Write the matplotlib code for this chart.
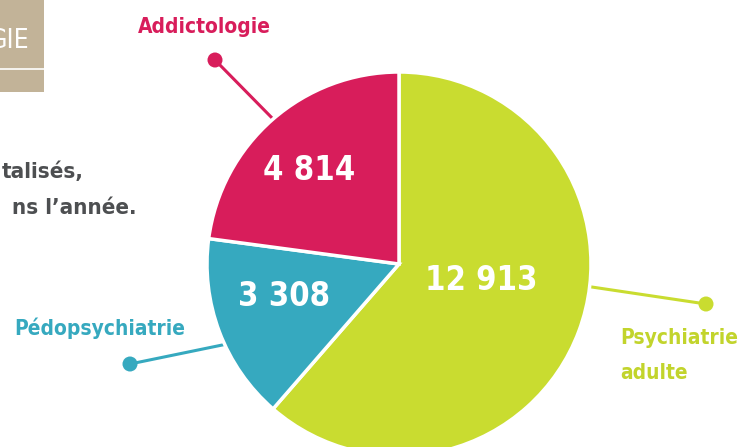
import matplotlib
matplotlib.use("Agg")
import matplotlib.pyplot as plt
from matplotlib import font_manager as fm
from matplotlib.patches import Rectangle, Circle

# data
categories = ["Psychiatrie\nadulte", "Pédopsychiatrie", "Addictologie"]
values = [12913, 3308, 4814]
value_labels = ["12 913", "3 308", "4 814"]
colors = ["#C9DC30", "#36A9BF", "#D81D5B"]


def _num(v, table):
    if isinstance(v, str):
        return table.get(v, 500 if table is fm.stretch_dict else 400)
    return v


def pick_font(bold=True):
    best, best_score = None, None
    for f in fm.fontManager.ttflist:
        st = _num(f.stretch, fm.stretch_dict)
        w = _num(f.weight, fm.weight_dict)
        nm = f.name.lower()
        fn = f.fname.lower()
        narrowish = st < 500 or "condensed" in nm or "narrow" in nm or "condensed" in fn or "narrow" in fn
        if not narrowish or f.style != "normal":
            continue
        if "cjk" in nm or "mono" in nm:
            continue
        wt = 700 if bold else 400
        score = abs(w - wt) + abs(min(st, 500) - 300) * 0.2
        if best_score is None or score < best_score:
            best, best_score = f.fname, score
    return best


BOLD = pick_font(True)
REG = pick_font(False)


def fp(size, bold=True):
    path = BOLD if bold else REG
    if path:
        return fm.FontProperties(fname=path, size=size)
    return fm.FontProperties(family="DejaVu Sans", weight="bold" if bold else "normal",
                             stretch="condensed", size=size * 0.85)


W, H = 749, 447
fig = plt.figure(figsize=(W / 100, H / 100), dpi=100)
ax = fig.add_axes([0, 0, 1, 1])


def Y(y):
    return H - y


cx, cy, r = 399, Y(264), 192

# leader lines (drawn beneath pie)
leaders = [
    ((706, 304), (585, 286)),
    ((130, 364), (232, 343)),
    ((215, 60), (276, 122)),
]
for (d, e), c in zip(leaders, colors):
    ax.plot([d[0], e[0]], [Y(d[1]), Y(e[1])], color=c, lw=2.2, zorder=1,
            solid_capstyle="butt")
    ax.add_patch(Circle((d[0], Y(d[1])), 7.5, color=c, zorder=2, lw=0))

wedges, _ = ax.pie(values, colors=colors, startangle=90, counterclock=False,
                   center=(cx, cy), radius=r,
                   wedgeprops=dict(edgecolor="white", linewidth=2.5))
for w in wedges:
    w.set_zorder(3)

# values inside slices
val_pos = [(481, 280), (284, 297), (309, 170)]
for (x, y), t in zip(val_pos, value_labels):
    ax.text(x, Y(y), t, color="white", fontproperties=fp(23.5),
            ha="center", va="center", zorder=5)

# category labels
LBL = 15
ax.text(204, Y(27), categories[2], color=colors[2], fontproperties=fp(LBL),
        ha="center", va="center")
ax.text(14, Y(328), categories[1], color=colors[1], fontproperties=fp(LBL),
        ha="left", va="center")
for i, line in enumerate(categories[0].split("\n")):
    ax.text(620, Y(338 + 35 * i), line, color="#C2D42C", fontproperties=fp(LBL),
            ha="left", va="center")

# cropped title box
ax.add_patch(Rectangle((0, Y(92)), 44, 92, color="#C2B398", lw=0, zorder=1))
ax.plot([0, 44], [Y(69), Y(69)], color="white", lw=1.2, zorder=2)
ax.text(29, Y(41), "GIE", color="white", fontproperties=fp(19, bold=False),
        ha="right", va="center", zorder=3)

# cropped intro text
ax.text(84, Y(172), "talisés,", color="#4D4F51", fontproperties=fp(16),
        ha="right", va="center")
ax.text(136, Y(208), "ns l’année.", color="#4D4F51", fontproperties=fp(16),
        ha="right", va="center")

ax.set_xlim(0, W)
ax.set_ylim(0, H)
ax.set_aspect("equal")
ax.axis("off")
fig.savefig("out.png", dpi=100, facecolor="white")
